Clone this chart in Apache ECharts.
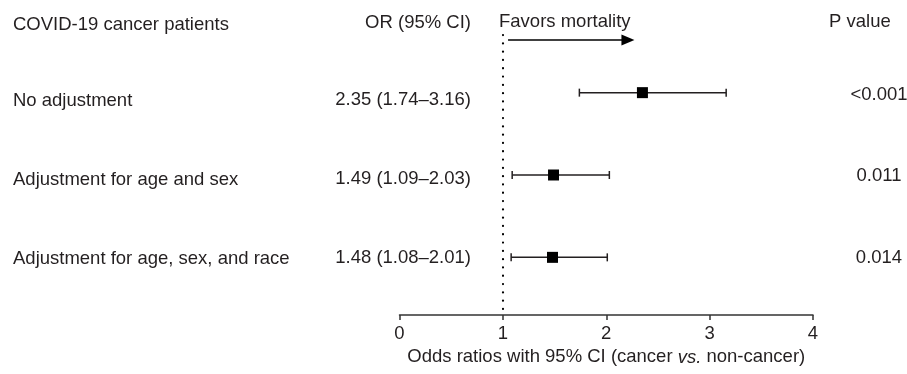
<!DOCTYPE html>
<html>
<head>
<meta charset="utf-8">
<script src="https://cdn.jsdelivr.net/npm/echarts@6/dist/echarts.min.js"></script>
<style>
  html, body { margin: 0; padding: 0; background: #fff; }
  #chart { width: 907px; height: 374px; }
</style>
</head>
<body>
<div id="chart"></div>
<script>
// ---- data ----
const groups = ['No adjustment', 'Adjustment for age and sex', 'Adjustment for age, sex, and race'];
const orValues = [2.35, 1.49, 1.48];
const ciLow = [1.74, 1.09, 1.08];
const ciHigh = [3.16, 2.03, 2.01];
const orTexts = ['2.35 (1.74\u20133.16)', '1.49 (1.09\u20132.03)', '1.48 (1.08\u20132.01)'];
const pValues = ['<0.001', '0.011', '0.014'];
const xTicks = [0, 1, 2, 3, 4];
const refValue = 1;
const arrowFrom = 1.05;
const arrowTo = 2.21;
const arrowRow = -0.64;

const FONT = "'Liberation Sans', Arial, Helvetica, sans-serif";
const FS = 18.5;
const INK = '#231f20';

const chart = echarts.init(document.getElementById('chart'), null, { renderer: 'canvas' });

const barData = groups.map((g, i) => [ciLow[i], ciHigh[i], orValues[i], i]);

function txt(text, x, y, align) {
  return {
    type: 'text', x: x, y: y, silent: true,
    style: { text: text, align: align, verticalAlign: 'middle', fill: INK, fontSize: FS, fontFamily: FONT }
  };
}

const rowTextY = [101, 180, 259];
const orTextY = [100, 179, 258];
const pTextY = [94.5, 176, 258];

const graphics = [
  txt('COVID-19 cancer patients', 13, 25, 'left'),
  txt('OR (95% CI)', 471, 23, 'right'),
  txt('Favors mortality', 499, 22, 'left'),
  txt('P value', 829, 22, 'left')
];
groups.forEach((g, i) => {
  graphics.push(txt(g, 13, rowTextY[i], 'left'));
  graphics.push(txt(orTexts[i], 471, orTextY[i], 'right'));
  graphics.push(txt(pValues[i], 879, pTextY[i], 'center'));
});

const option = {
  animation: false,
  backgroundColor: '#fff',
  grid: { left: 399.5, right: 94, top: 35, bottom: 59, containLabel: false },
  xAxis: {
    type: 'value', min: 0, max: 4, interval: 1,
    axisLine: { show: true, onZero: false, lineStyle: { color: '#333', width: 1.5 } },
    axisTick: { show: true, length: 5, lineStyle: { color: '#333', width: 1.5 } },
    axisLabel: { color: INK, fontSize: FS, fontFamily: FONT, margin: 9,
      formatter: v => (xTicks.indexOf(v) >= 0 ? String(v) : '') },
    splitLine: { show: false },
    name: '{n|Odds ratios with 95% CI (cancer }{i|vs.}{n| non-cancer)}',
    nameLocation: 'middle', nameGap: 30,
    nameTextStyle: {
      rich: {
        n: { color: INK, fontSize: FS, fontFamily: FONT, lineHeight: 22, verticalAlign: 'middle' },
        i: { color: INK, fontSize: FS, fontFamily: FONT, fontStyle: 'italic', lineHeight: 22, verticalAlign: 'middle' }
      }
    }
  },
  yAxis: {
    type: 'value', inverse: true, min: -0.7, max: 2.7, show: false
  },
  graphic: graphics,
  series: [
    {
      type: 'custom',
      data: barData,
      clip: false,
      renderItem: function (params, api) {
        const row = api.value(3);
        const p1 = api.coord([api.value(0), row]);
        const p2 = api.coord([api.value(1), row]);
        const pm = api.coord([api.value(2), row]);
        const lineStyle = { stroke: INK, lineWidth: 1.5 };
        const cap = 4;
        const sq = 11;
        return {
          type: 'group',
          children: [
            { type: 'line', shape: { x1: p1[0], y1: p1[1], x2: p2[0], y2: p2[1] }, style: lineStyle },
            { type: 'line', shape: { x1: p1[0], y1: p1[1] - cap, x2: p1[0], y2: p1[1] + cap }, style: lineStyle },
            { type: 'line', shape: { x1: p2[0], y1: p2[1] - cap, x2: p2[0], y2: p2[1] + cap }, style: lineStyle },
            { type: 'rect', shape: { x: pm[0] - sq / 2, y: pm[1] - sq / 2, width: sq, height: sq }, style: { fill: '#000' } }
          ]
        };
      },
      markLine: {
        silent: true,
        animation: false,
        label: { show: false },
        data: [
          [
            { coord: [refValue, -0.7], symbol: 'none', lineStyle: { color: '#000', width: 2.2, type: [0.1, 8.2], cap: 'round' } },
            { coord: [refValue, 2.7], symbol: 'none' }
          ],
          [
            { coord: [arrowFrom, arrowRow], symbol: 'none', lineStyle: { color: '#000', width: 1.5, type: 'solid' } },
            { coord: [arrowTo, arrowRow], symbol: 'triangle', symbolSize: [11, 13] }
          ]
        ]
      }
    }
  ]
};

chart.setOption(option);
</script>
</body>
</html>
